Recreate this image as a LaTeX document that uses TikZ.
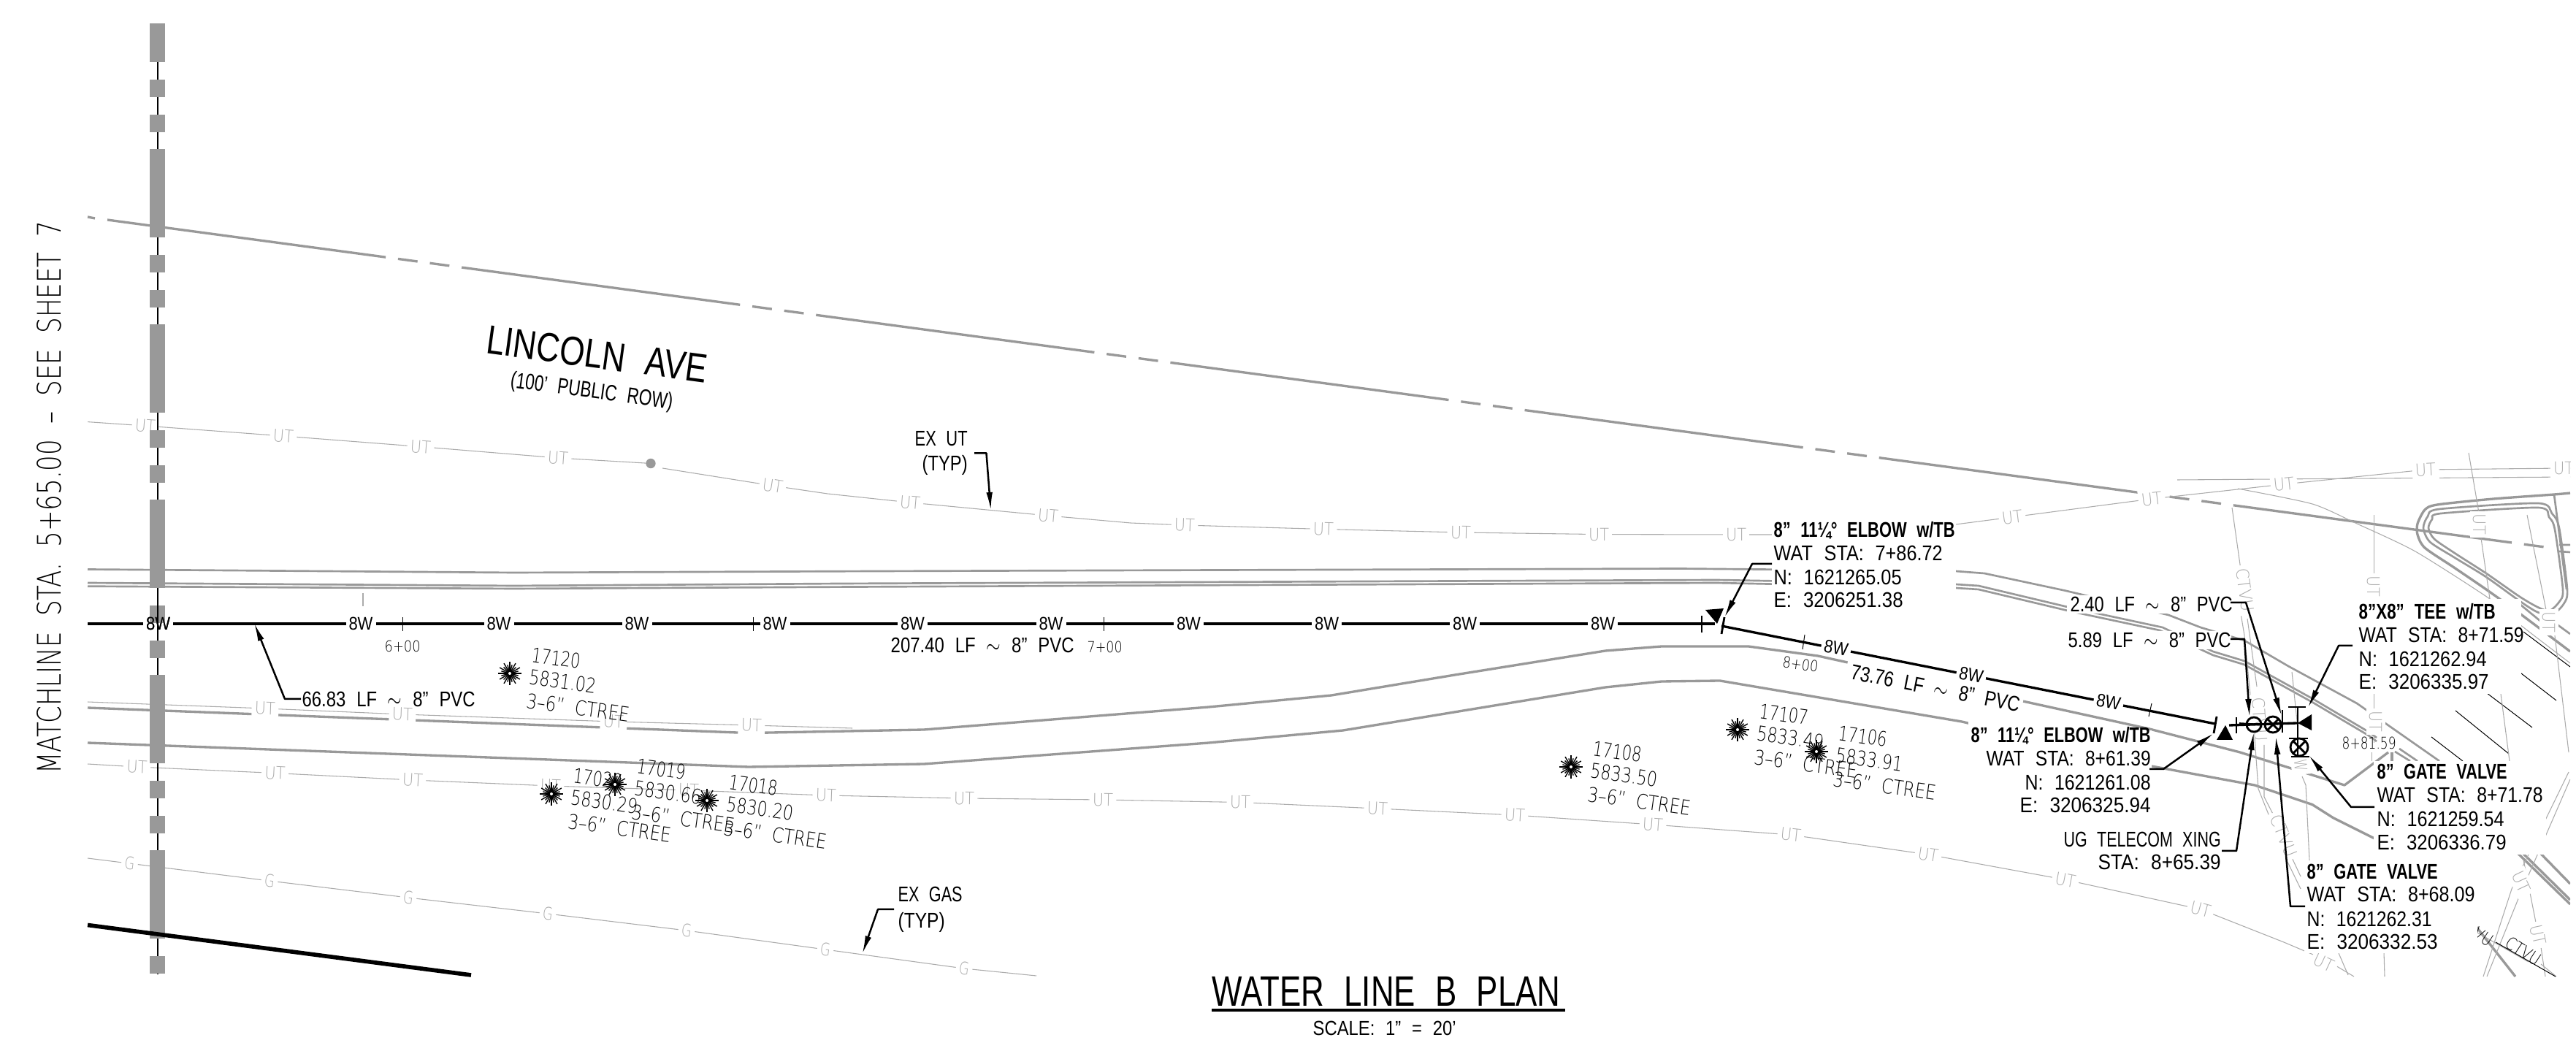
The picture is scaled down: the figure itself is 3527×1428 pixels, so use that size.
\documentclass[tikz,border=0pt]{standalone}
\usepackage{fontspec}
\usepackage{graphicx}
\usetikzlibrary{arrows.meta}
\setmainfont{Liberation Sans}
\newfontfamily\fbold{Liberation Sans Bold}
\newfontfamily\fthin{DejaVu Sans ExtraLight}
\definecolor{rd}{HTML}{999999}
\definecolor{ug}{HTML}{ABABAB}
\newsavebox\fwbox
\newcommand\FW[3]{\begingroup\pgfmathsetmacro\fwsz{#1*0.3/0.72}\fontsize{\fwsz}{\fwsz}\selectfont\spaceskip=0.62em\relax
  \sbox\fwbox{#3}\pgfmathsetmacro\fwr{#2*0.3/\the\wd\fwbox}\scalebox{\fwr}[1]{\usebox\fwbox}\endgroup}
\tikzset{
  road/.style={draw=rd,line width=1pt,line join=round},
  curb/.style={draw=rd,line width=0.8pt,line join=round},
  util/.style={draw=ug,line width=0.32pt,line join=round},
  hatch/.style={draw=black,line width=0.3pt},
  lbl/.style={inner sep=0pt,anchor=base west},
  ctr/.style={inner sep=0pt,anchor=base},
  ulbl/.style={inner sep=1.3pt,fill=white,text=ug},
  wlbl/.style={inner sep=1.2pt,fill=white},
  water/.style={draw=black,line width=1pt,line join=round},
  sym/.style={draw=black,line width=0.85pt},
  lead/.style={draw=black,line width=0.75pt,line join=round,-{Latex[length=7.5pt,width=2.6pt]}},
  tick/.style={draw=black,line width=0.3pt},
  mask/.style={fill=white,draw=none}
}
\newcommand\ULB[5]{\node[ulbl,rotate=#3] at (#1,#2) {\FW{17}{#4}{\fthin #5}};}
\newcommand\UTL[3]{\ULB{#1}{#2}{#3}{28}{UT}}
\newcommand\GL[3]{\ULB{#1}{#2}{#3}{14}{G}}
\newcommand\EW[3]{\node[wlbl,rotate=#3] at (#1,#2) {\FW{18}{33}{8W}};}
\newcommand\TREE[4]{\begin{scope}[shift={(#1,#2)}]
  \foreach \a in {0,30,...,330} \draw[hatch,line width=.42pt] (0,0) -- (\a:16);
  \foreach \a in {15,45,...,345} \draw[hatch,line width=.42pt] (0,0) -- (\a:12);
  \fill[white] (0,0) circle (0.6pt);
  \node[ctr,rotate=-8] at (62,-11) {\FW{20}{67}{\fthin #3}};
  \node[ctr,rotate=-8] at (71,21) {\FW{20}{92}{\fthin #4}};
  \node[ctr,rotate=-8] at (92,57) {\FW{20}{142}{\fthin 3–6” CTREE}};
\end{scope}}
\newcommand\XC[3]{\draw[sym] (#1,#2) circle (#3);
  \draw[sym] (#1,#2) ++(45:#3) -- ++(225:2*#3) (#1,#2) ++(135:#3) -- ++(315:2*#3);}
\begin{document}
\begin{tikzpicture}[x=0.3pt,y=-0.3pt]
\useasboundingbox (0,0) rectangle (3527,1428);
\begin{scope}
\clip (0,0) rectangle (3519,1337);
% road lines
\draw[road] (120,297) -- (130,299);
\draw[road,dash pattern=on 115.35pt off 5.1pt on 8.1pt off 5.1pt on 8.1pt off 5.1pt] (147,301) -- (3484,749);
\draw[curb] (120,779.5) -- (704,784) -- (1200,782) -- (2300,778.5) -- (2678,782) -- (2717,785) -- (2827,808.5) -- (2969,842) -- (3013,859) -- (3073,877) -- (3133,912) -- (3227,963) -- (3340,1042);
\draw[curb] (120,798) -- (704,802) -- (1150,799) -- (2350,794) -- (2678,800) -- (2709,802) -- (2835,832) -- (2961,859) -- (3030,892) -- (3073,905) -- (3167,957) -- (3243,1002) -- (3254,1010);
\draw[curb] (120,802.7) -- (704,806) -- (1150,803.6) -- (2350,798) -- (2678,805) -- (2709,807) -- (2835,837) -- (2957,863) -- (3030,897) -- (3073,910) -- (3167,962) -- (3243,1007) -- (3254,1015);
\draw[road] (120,969) -- (1025,1003.6) -- (1265,999) -- (1655,968) -- (1823,952) -- (1992,924) -- (2198,891) -- (2275,885) -- (2394,885) -- (2489,898) -- (2765,959) -- (2943,998) -- (3067,1030) -- (3210,1075) -- (3270,1030);
\draw[road] (120,1017) -- (1025,1050) -- (1265,1046) -- (1655,1017) -- (1839,1000) -- (2198,941) -- (2275,933) -- (2355,932) -- (2686,988) -- (2946,1049) -- (3087,1075) -- (3166,1101.6) -- (3195,1120) -- (3253,1149);
\draw[road] (3275,1030) -- (3275,1042);
\draw[curb] (3285,1025) -- (3310,1042) (3279,1029) -- (3300,1042);
% island
\draw[road] plot[smooth,tension=.45] coordinates {(3519,675) (3497,677) (3414,683) (3337,691) (3320,698) (3310,717) (3310,732) (3320,750) (3360,777) (3404,807) (3450,840) (3519,892)};
\draw[curb] plot[smooth cycle,tension=.45] coordinates {(3475,689) (3340,697) (3324,707) (3318,723) (3327,742) (3360,763) (3404,790) (3450,823) (3474,838) (3494,842) (3510,827) (3515,807) (3504,723) (3494,703)};
\draw[curb] plot[smooth cycle,tension=.45] coordinates {(3475,695) (3342,703) (3330,711) (3325,723) (3333,738) (3362,758) (3404,785) (3450,817) (3476,832) (3491,836) (3504,824) (3509,807) (3498,725) (3490,708)};
\draw[curb] (3497,677) -- (3514,807) (3497,852) -- (3519,868) (3451,828) -- (3490,860);
\draw[curb] (3504,746) -- (3519,746) (3504,755) -- (3519,756);
\draw[road] (3447,1168) -- (3519,1238) (3454,1168) -- (3519,1232) (3477,1167) -- (3519,1210) (3385,1262) -- (3444,1337);
% hatch lines
\draw[hatch] (3455,865) -- (3519,913) (3452,922) -- (3500,959) (3405,949) -- (3467,996) (3362,973) -- (3435,1032) (3329,1009) -- (3372,1042);
% utilities
\draw[util] (120,577.6) -- (199,583) -- (388,597) -- (576,611.6) -- (764,627) -- (891,634.5);
\draw[util] (907,641) -- (1058,665) -- (1133,676) -- (1246,688) -- (1435,706) -- (1548,716) -- (1622,719) -- (1812,724.5) -- (2000,729) -- (2189,731.6) -- (2377,732) -- (2426,732);
\draw[util] (2670,719) -- (2755,708) -- (2946,683) -- (3127,663) -- (3321,643) -- (3510,641) -- (3519,641);
\draw[util] (2981,657) -- (3519,653);
\fill[rd] (891,634.5) circle (2pt);
\UTL{199}{583}{-4}\UTL{388}{597}{-4}\UTL{576}{611.6}{-4}\UTL{764}{627}{-4}
\UTL{1058}{665}{-9}\UTL{1246}{688}{-5}\UTL{1435}{706}{-5}\UTL{1622}{719}{-2}\UTL{1812}{724.5}{-2}\UTL{2000}{729}{-1}\UTL{2189}{731.6}{0}\UTL{2377}{732}{0}
\UTL{2755}{708}{7}\UTL{2946}{683}{7}\UTL{3127}{663}{6}\UTL{3321}{643}{3}\UTL{3510}{641}{0}
\draw[util] (120,961) -- (363,970) -- (551,978) -- (840,988) -- (1029,993) -- (1167,997);
\UTL{363}{970}{-2}\UTL{551}{978}{-2}\UTL{840}{988}{-2}\UTL{1029}{993}{-2}
\draw[util] (120,1046) -- (187.5,1050) -- (376.5,1058.5) -- (565,1068) -- (754,1076) -- (943,1082) -- (1131,1089) -- (1320,1093) -- (1510,1095) -- (1698,1098.5) -- (1886,1107) -- (2074,1116) -- (2263,1129) -- (2452,1143) -- (2640,1170) -- (2828,1204.5) -- (3013,1245) -- (3127,1290) -- (3186,1315) -- (3223,1337);
\UTL{187.5}{1050}{-3}\UTL{376.5}{1058.5}{-3}\UTL{565}{1068}{-3}\UTL{754}{1076}{-2}\UTL{943}{1082}{-2}\UTL{1131}{1089}{-2}\UTL{1320}{1093}{-1}\UTL{1510}{1095}{-1}\UTL{1698}{1098.5}{-1}\UTL{1886}{1107}{-3}\UTL{2074}{1116}{-3}\UTL{2263}{1129}{-4}\UTL{2452}{1143}{-6}\UTL{2640}{1170}{-9}\UTL{2828}{1204.5}{-11}\UTL{3013}{1245}{-15}\UTL{3182}{1318}{-25}
\draw[util] (120,1175) -- (369,1206) (369,1206) -- (559,1229) -- (750,1251) -- (940,1274) -- (1130,1300) -- (1320,1326) -- (1419,1336);
\GL{177.5}{1182}{-7}\GL{369}{1206}{-7}\GL{559}{1229}{-7}\GL{750}{1251}{-7}\GL{940}{1274}{-7}\GL{1130}{1300}{-7}\GL{1320}{1326}{-7}
% right side thin lines
\draw[util] (3056,695) -- (3068,780) (3063,810) -- (3073,870) -- (3084,982) (3077,847) -- (3090,940);
\ULB{3074}{808}{-82}{60}{CTVU}
\ULB{3094}{985}{-86}{60}{CTVU}
\draw[util] (3087,1010) -- (3092,1080) -- (3112,1130) (3100,1020) -- (3100,1091) -- (3120,1130) (3135,1168) -- (3150,1200) (3132,1180) -- (3150,1217);
\ULB{3127}{1144}{-68}{60}{CTVU}
\draw[util] (3138,920) -- (3145,987) (3152,1063) -- (3157,1075) -- (3162,1178);
\ULB{3150}{1048}{-85}{16}{W}
\draw[util] (3250,705) -- (3250,975) (3250,1000) -- (3250,1017) (3247,1030) -- (3247,1042);
\UTL{3250}{803}{-90}\UTL{3253}{988}{-90}
\draw[util] plot[smooth,tension=.4] coordinates {(3064,669) (3166,690) (3227,717) (3307,755) (3409,820) (3450,855) (3519,908)};
\draw[util] (3380,620) -- (3394,702) (3397,737) -- (3409,820) (3460,705) -- (3487,840) (3497,862) -- (3517,1030) (3424,950) -- (3436,1042);
\UTL{3395}{718}{-90}\UTL{3490}{852}{-90}
\draw[util] (3517,1057) -- (3439,1217) -- (3400,1337) (3519,1067) -- (3449,1228) -- (3405,1337);
\draw[util] (3455,1177) -- (3472,1263) (3479,1297) -- (3485,1337) (3202,1305) -- (3215,1335) (3264,1304) -- (3265,1337);
\ULB{3452}{1208}{-65}{30}{UT}
\UTL{3475}{1280}{-78}
\draw[util] (3385,1273) -- (3462,1317) (3479,1320) -- (3500,1337);
\draw[hatch] (3417,1290) -- (3499,1337);
\node[inner sep=0pt,rotate=-33] at (3455,1302) {\FW{17}{52}{\fthin CTVU}};
\node[inner sep=0pt,rotate=-33] at (3400,1283) {\FW{17}{26}{\fthin VU}};
\draw[util] (497,812) -- (497,830);
% masks
\fill[mask] (2426,708) rectangle (2678,838);
\fill[mask] (2830,815) rectangle (3057,840) (2827,864) rectangle (3055,889);
\fill[mask] (3225,820) rectangle (3452,950);
\fill[mask] (3250,1042) rectangle (3486,1170);
\fill[mask] (3155,1178) rectangle (3392,1305);
\fill[mask] (2695,988) rectangle (2790,1118) (2790,1000) rectangle (2946,1118);
\fill[mask,rotate around={-11:(2648,943)}] (2525,928) rectangle (2771,958);
\end{scope}
% matchline
\draw[black,line width=0.5pt] (216,32) -- (216,1336);
\foreach \y in {0,240,480,720,960,1200} {
  \fill[rd] (205,\y+85-121) rectangle (226,\y+85);
  \fill[rd] (205,\y+109) rectangle (226,\y+133);
  \fill[rd] (205,\y+157) rectangle (226,\y+181);
}
\fill[white] (205,0) rectangle (226,32);
\fill[white] (205,1334) rectangle (226,1428);
\draw[black,line width=1.7pt] (120,1266.5) -- (645,1335);
\node[ctr,rotate=90] (match) at (84,681) {\FW{32}{757}{\fthin MATCHLINE STA. 5+65.00 – SEE SHEET 7}};
% water line
\draw[water] (120,854) -- (2348,854);
\draw[water] (2357,857) -- (3033,991);
\draw[water] (3052,993) -- (3145,990);
\draw[tick] (551,845) -- (551,864) (1031,845) -- (1031,864) (1511,845) -- (1511,864);
\draw[tick] (2471,869) -- (2468,889) (2946,963) -- (2942,981);
\draw[sym,line width=.5pt] (2330,843) -- (2330,866);
\foreach \x in {216.6,494,683,872,1061,1249.5,1439,1627.5,1816.6,2005.6,2194.6} {\EW{\x}{854}{0}}
\EW{2514}{887}{-11}\EW{2699}{924}{-11}\EW{2887}{961}{-11}
\fill[rd] (205,829) rectangle (226,853);
\draw[black,line width=0.5pt] (216,829) -- (216,868);
\node[inner sep=0pt] (w0) at (216.6,854) {\FW{18}{33}{8W}};
% symbols
\fill (2335,835) -- (2360,833) -- (2351,854) -- cycle;
\draw[sym] (2361,845) -- (2357,868);
\draw[sym] (3035,981) -- (3031,1004);
\fill (3047,993) -- (3035,1013) -- (3057,1013) -- cycle;
\draw[sym] (3062,982) -- (3062,1004);
\draw[sym] (3086,992) circle (10);
\draw[sym,line width=.5pt] (3066,990) -- (3100,992);
\XC{3112}{992}{11}
\draw[sym] (3125,972) -- (3125,1003);
\draw[sym] (3146,968) -- (3146,1037) (3133,968) -- (3157,968);
\fill (3165,978) -- (3165,1000) -- (3146,990) -- cycle;
\draw[sym] (3134,1011) -- (3160,1011) (3137,1036) -- (3162,1036);
\XC{3148}{1023}{12}
% leaders
\draw[lead] (2426,772) -- (2399,772) -- (2361,845.5);
\draw[lead] (2943,1053) -- (2962,1053) -- (3031,1004);
\draw[lead] (3054,825) -- (3075,825) -- (3124,980);
\draw[lead] (3054,875) -- (3073,875) -- (3080,982);
\draw[lead] (3221,884) -- (3202,884) -- (3160,969);
\draw[lead] (3251,1105) -- (3219,1105) -- (3161,1034);
\draw[lead] (3156,1241) -- (3136,1241) -- (3116,1008);
\draw[lead] (3042,1165) -- (3062,1165) -- (3086,1002);
\draw[lead] (412,957) -- (390,957) -- (348,853);
\draw[lead] (1334,620.5) -- (1350.5,620.5) -- (1356.6,699);
\draw[lead] (1224,1245) -- (1202,1245) -- (1180.6,1306);
% labels
\node[lbl] (e1a) at (2428,736) {\FW{21}{248}{\fbold 8” 11¼° ELBOW w/TB}};
\node[lbl] (e1b) at (2428,768) {\FW{21}{231}{WAT STA: 7+86.72}};
\node[lbl] (e1c) at (2428,800.6) {\FW{21}{175}{N: 1621265.05}};
\node[lbl] (e1d) at (2428,832) {\FW{21}{177}{E: 3206251.38}};
\node[lbl] (l240) at (2834,838) {\FW{21}{222}{2.40 LF $\sim$ 8” PVC}};
\node[lbl] (l589) at (2831,887) {\FW{21}{223}{5.89 LF $\sim$ 8” PVC}};
\node[lbl] (t1a) at (3229,848) {\FW{21}{187}{\fbold 8”X8” TEE w/TB}};
\node[lbl] (t1b) at (3229,880) {\FW{21}{226}{WAT STA: 8+71.59}};
\node[lbl] (t1c) at (3229,912.6) {\FW{21}{175}{N: 1621262.94}};
\node[lbl] (t1d) at (3229,944) {\FW{21}{178}{E: 3206335.97}};
\node[lbl] (g1a) at (3254,1067) {\FW{21}{178}{\fbold 8” GATE VALVE}};
\node[lbl] (g1b) at (3254,1099) {\FW{21}{227}{WAT STA: 8+71.78}};
\node[lbl] (g1c) at (3254,1132) {\FW{21}{174}{N: 1621259.54}};
\node[lbl] (g1d) at (3254,1163) {\FW{21}{177}{E: 3206336.79}};
\node[lbl] (g2a) at (3158,1203.5) {\FW{21}{179}{\fbold 8” GATE VALVE}};
\node[lbl] (g2b) at (3158,1235) {\FW{21}{230}{WAT STA: 8+68.09}};
\node[lbl] (g2c) at (3158,1268) {\FW{21}{171}{N: 1621262.31}};
\node[lbl] (g2d) at (3158,1299.6) {\FW{21}{179}{E: 3206332.53}};
\node[lbl] (ug1) at (2825,1160) {\FW{21}{215}{UG TELECOM XING}};
\node[lbl] (ug2) at (2872,1191) {\FW{21}{168}{STA: 8+65.39}};
\node[lbl] (e2a) at (2698,1017) {\FW{21}{246}{\fbold 8” 11¼° ELBOW w/TB}};
\node[lbl] (e2b) at (2719,1049) {\FW{21}{225}{WAT STA: 8+61.39}};
\node[lbl] (e2c) at (2772,1081.5) {\FW{21}{172}{N: 1621261.08}};
\node[lbl] (e2d) at (2765,1113) {\FW{21}{179}{E: 3206325.94}};
\node[lbl] (l66) at (413,968) {\FW{21}{237}{66.83 LF $\sim$ 8” PVC}};
\node[lbl] (l207) at (1219,894) {\FW{21}{251}{207.40 LF $\sim$ 8” PVC}};
\node[ctr,rotate=-11] (l73) at (2648,952) {\FW{21}{235}{73.76 LF $\sim$ 8” PVC}};
\node[lbl] (s6) at (526,893) {\FW{15}{49}{\fthin 6+00}};
\node[lbl] (s7) at (1488,894) {\FW{15}{48}{\fthin 7+00}};
\node[ctr,rotate=-8] (s8) at (2464,917) {\FW{15}{49}{\fthin 8+00}};
\node[lbl] (s881) at (3206,1026) {\FW{16}{74}{\fthin 8+81.59}};
\node[ctr,rotate=-7.7] (lin) at (815,504) {\FW{40}{304}{LINCOLN AVE}};
\node[ctr,rotate=-7.7] (pub) at (809,545) {\FW{22}{224}{(100' PUBLIC ROW)}};
\node[lbl] (exut) at (1252,611) {\FW{21}{72}{EX UT}};
\node[lbl] (typ1) at (1262,645) {\FW{21}{62}{(TYP)}};
\node[lbl] (exg) at (1229,1234.6) {\FW{21}{88}{EX GAS}};
\node[lbl] (typ2) at (1229,1271) {\FW{21}{64}{(TYP)}};
\node[lbl] (title) at (1659,1377) {\FW{42}{477}{WATER LINE B PLAN}};
\draw[black,line width=1.1pt] (1659,1383) -- (2143,1383);
\node[lbl] (scale) at (1797,1417) {\FW{20}{196}{SCALE: 1” = 20’}};
% trees
\TREE{698}{922}{17120}{5831.02}
\TREE{755}{1087}{17020}{5830.29}
\TREE{842}{1074}{17019}{5830.66}
\TREE{968}{1096}{17018}{5830.20}
\TREE{2151}{1050}{17108}{5833.50}
\TREE{2379}{999}{17107}{5833.49}
\TREE{2487}{1029}{17106}{5833.91}
\end{tikzpicture}
\end{document}
